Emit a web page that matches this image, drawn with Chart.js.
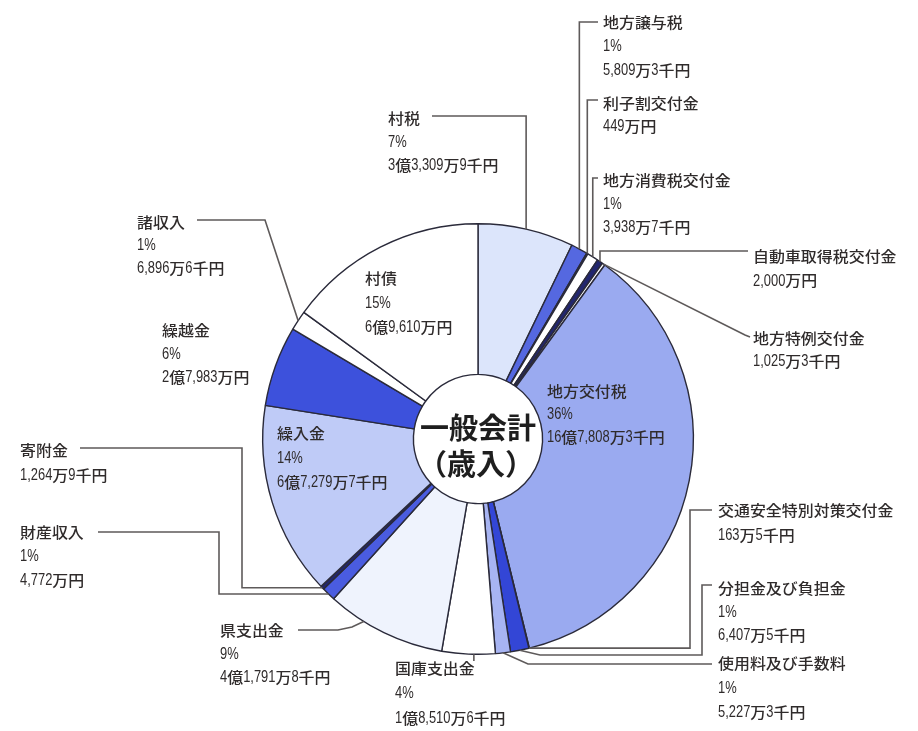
<!DOCTYPE html>
<html>
<head>
<meta charset="utf-8">
<script src="https://cdn.jsdelivr.net/npm/chart.js@4/dist/chart.umd.min.js"></script>
<style>
html,body{margin:0;padding:0;background:#fff;}
#wrap{width:918px;height:731px;}
</style>
</head>
<body>
<div id="wrap"><canvas id="c" width="918" height="731"></canvas></div>
<script>
// ---- data (values in 万円) ----
const categories = ['村税','地方譲与税','利子割交付金','地方消費税交付金','自動車取得税交付金','地方特例交付金','地方交付税','交通安全特別対策交付金','分担金及び負担金','使用料及び手数料','国庫支出金','県支出金','財産収入','寄附金','繰入金','繰越金','諸収入','村債'];
const amounts = [33309.9, 5809.3, 449, 3938.7, 2000, 1025.3, 167808.3, 163.5, 6407.5, 5227.3, 18510.6, 41791.8, 4772, 1264.9, 67279.7, 27983, 6896.6, 69610];
const percentLabels = ['7%','1%','','1%','','','36%','','1%','1%','4%','9%','1%','','14%','6%','1%','15%'];
const amountLabels = ['3億3,309万9千円','5,809万3千円','449万円','3,938万7千円','2,000万円','1,025万3千円','16億7,808万3千円','163万5千円','6,407万5千円','5,227万3千円','1億8,510万6千円','4億1,791万8千円','4,772万円','1,264万9千円','6億7,279万7千円','2億7,983万円','6,896万6千円','6億9,610万円'];
const centerTitle = ['一般会計','（歳入）'];

// ---- styles ----
const sliceColors = ['#dce5fb','#5568e0','#22266e','#ffffff','#22266e','#ffffff','#9aaaf0','#22266e','#3346d6','#a7b4f2','#ffffff','#eff3fd','#4a5ce0','#22266e','#bfcbf7','#3d51dc','#ffffff','#ffffff'];

// label layout: x, y of first line, line height, anchor fraction within slice, leader waypoints ('A' = anchor coord)
const labelLayout = [
  {x:388,y:118,lh:23.5,t:0.5,lead:[[432,116],['A',116]]},
  {x:603,y:22,lh:24,t:0.5,lead:[[598,22],['A',22]]},
  {x:603,y:103,lh:23,t:0.5,lead:[[598,100],['A',100]]},
  {x:603,y:180,lh:23.5,t:0.5,lead:[[598,178],['A',178]]},
  {x:753,y:256,lh:24.5,t:0.5,lead:[[748,251],['A',251]]},
  {x:753,y:338,lh:23,t:0.5,lead:[[750,337],[745,335]]},
  {x:547,y:391,lh:23,t:0.5,lead:null},
  {x:718,y:510,lh:25,t:0.5,lead:[[712,510],[690,510],[690,'A']]},
  {x:718,y:588,lh:23.5,t:0.5,lead:[[712,585],[702,585],[702,655],[540,655]]},
  {x:718,y:663,lh:24.5,t:0.5,lead:[[712,664],[528,664]]},
  {x:395,y:668,lh:25,t:0.4,lead:[['A',661]]},
  {x:220,y:630,lh:23.5,t:0.69,lead:[[298,630],[338,630],[352,627]]},
  {x:20,y:532,lh:24,t:0.5,lead:[[98,532],[219,532],[219,'A']]},
  {x:20,y:450,lh:25,t:0.5,lead:[[80,448],[242,448],[242,'A']]},
  {x:277,y:433,lh:24.5,t:0.5,lead:null},
  {x:162,y:330,lh:23.5,t:0.5,lead:null},
  {x:137,y:222,lh:23,t:0.5,lead:[[197,220],[265,220]]},
  {x:365,y:278,lh:24.5,t:0.5,lead:null}
];

const TEXT_COLOR = '#2f2b2b';
const LINE_COLOR = '#5e5a5a';
const SX = 1.1;
const DX = 0.76;

function drawRich(ctx, str, x, y, size) {
  let cx = x;
  for (const ch of str) {
    const cjk = ch.charCodeAt(0) > 0x2e80;
    ctx.save();
    if (cjk) {
      ctx.font = "500 " + size + "px 'Noto Sans CJK JP'";
      const w = ctx.measureText(ch).width;
      ctx.translate(cx, y); ctx.scale(SX, 1); ctx.fillText(ch, 0, 0);
      cx += w * SX;
    } else {
      ctx.font = (size + 2.5) + "px 'Liberation Sans'";
      const w = ctx.measureText(ch).width;
      ctx.translate(cx, y + 0.5); ctx.scale(DX, 1); ctx.fillText(ch, 0, 0);
      cx += w * DX;
    }
    ctx.restore();
  }
}

const labelPlugin = {
  id: 'labels',
  afterDraw(chart) {
    const ctx = chart.ctx;
    const meta = chart.getDatasetMeta(0);
    ctx.save();
    // leader lines
    ctx.strokeStyle = LINE_COLOR;
    ctx.lineWidth = 1.6;
    ctx.lineJoin = 'miter';
    meta.data.forEach((arc, i) => {
      const L = labelLayout[i];
      if (!L.lead) return;
      const p = arc.getProps(['x','y','startAngle','endAngle','outerRadius']);
      const a = p.startAngle + (p.endAngle - p.startAngle) * L.t;
      const ax = p.x + Math.cos(a) * p.outerRadius;
      const ay = p.y + Math.sin(a) * p.outerRadius;
      ctx.beginPath();
      L.lead.forEach((pt, k) => {
        const px = pt[0] === 'A' ? ax : pt[0];
        const py = pt[1] === 'A' ? ay : pt[1];
        if (k === 0) ctx.moveTo(px, py); else ctx.lineTo(px, py);
      });
      ctx.lineTo(ax, ay);
      ctx.stroke();
    });
    // texts
    ctx.fillStyle = TEXT_COLOR;
    ctx.textBaseline = 'middle';
    ctx.textAlign = 'left';
    categories.forEach((name, i) => {
      const L = labelLayout[i];
      const lines = [name, percentLabels[i], amountLabels[i]].filter(s => s);
      lines.forEach((s, k) => drawRich(ctx, s, L.x, L.y + k * L.lh, 14.5));
    });
    // center title
    const c = meta.data[0];
    ctx.fillStyle = '#1e1e1e';
    ctx.textAlign = 'center';
    ctx.font = "bold 29px 'Noto Sans CJK JP'";
    ctx.fillText(centerTitle[0], c.x, c.y - 11);
    ctx.fillText(centerTitle[1], c.x - 2, c.y + 25);
    ctx.restore();
  }
};

new Chart(document.getElementById('c'), {
  type: 'doughnut',
  data: {
    labels: categories,
    datasets: [{
      data: amounts,
      backgroundColor: sliceColors,
      borderColor: '#2a2a3a',
      borderWidth: 1.4
    }]
  },
  options: {
    responsive: false,
    animation: false,
    cutout: '30%',
    layout: {padding: {left: 262, right: 224, top: 223, bottom: 76}},
    plugins: {legend: {display: false}, tooltip: {enabled: false}}
  },
  plugins: [labelPlugin]
});
</script>
</body>
</html>
